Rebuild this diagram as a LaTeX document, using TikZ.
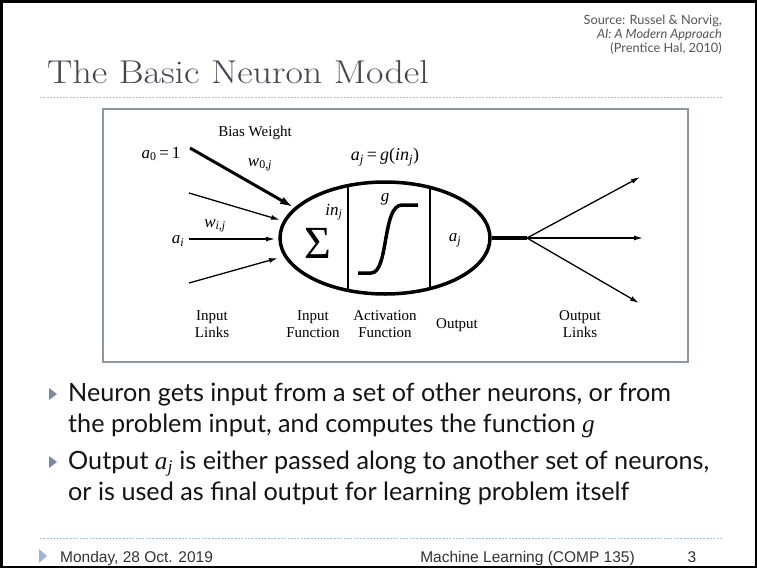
\documentclass[tikz,border=0pt]{standalone}
\usepackage{fontspec}
\usepackage{graphicx}
\newfontfamily\bodyfont{Lato}
\newfontfamily\figfont{Liberation Serif}
\newfontfamily\footfont{Liberation Sans}
\usetikzlibrary{shapes.geometric,arrows.meta}
\definecolor{titlegray}{HTML}{464652}
\definecolor{dotblue}{HTML}{A7C1DD}
\definecolor{boxgray}{HTML}{8E96A6}
\definecolor{bulletgray}{HTML}{7D88A5}
\definecolor{footblue}{HTML}{9DB6D3}
\definecolor{srcgray}{HTML}{555555}
\definecolor{foottext}{HTML}{333333}
\newcommand{\sbs}[1]{\textsubscript{#1}}
\begin{document}
\begin{tikzpicture}[x=1pt,y=-1pt,
  dotline/.style={dotblue,line width=0.9pt,dash pattern=on 2pt off 1.3pt},
  figlabel/.style={font=\figfont\fontsize{15}{16.5}\selectfont,align=center,inner sep=0},
  fmath/.style={font=\figfont\fontsize{17}{17}\selectfont,inner sep=0},
  arr/.style={-{Latex[length=9pt,width=5pt]},line width=1.3pt},
  biasarr/.style={-{Latex[length=13pt,width=8pt]},line width=3pt},
  bodytext/.style={font=\bodyfont\fontsize{25.2}{30}\selectfont,anchor=base west,inner sep=0,text=black!92},
  bullettri/.style={fill=bulletgray},
  foot/.style={font=\footfont\fontsize{15.5}{15.5}\selectfont,text=foottext,inner sep=0}
]
\useasboundingbox (0,0) rectangle (757,568);
\fill[white] (0,0) rectangle (757,568);
\draw[line width=2.5pt] (1.25,1.25) rectangle (755.75,566.75);

% title
\node[anchor=base west,inner sep=0,text=titlegray,font=\fontsize{33}{33}\selectfont] (title) at (47,83)
  {\scalebox{1.15}[1]{The Basic Neuron Model}};
\node[anchor=north east,align=right,inner sep=0,text=srcgray,
      font=\bodyfont\fontsize{12.8}{14}\selectfont] (src) at (722,15)
  {Source: Russel \& Norvig,\\ \textit{AI:\ A Modern Approach}\\ (Prentice Hal, 2010)};
\draw[dotline] (40,97) -- (722,97);

% figure box
\draw[boxgray,line width=1.5pt,fill=white] (103,109) rectangle (688,362);

% neuron
\begin{scope}
  \clip (385,238) ellipse [x radius=105pt, y radius=56pt];
  \draw[line width=1.2pt] (348,150) -- (348,330);
  \draw[line width=1.2pt] (430,150) -- (430,330);
\end{scope}
\node[draw,ellipse,line width=3.5pt,minimum width=210pt,minimum height=112pt,inner sep=0] (neuron) at (385,238) {};
\draw[line width=3.5pt] (358,273) -- (371,273) .. controls (389,273) and (382,205) .. (402,205) -- (418,205);

\node[inner sep=0,font=\figfont\fontsize{46}{46}\selectfont] (sigma) at (318,243) {Σ};
\node[fmath] (inj) at (334,212) {\textit{in}\sbs{\textit{j}}};
\node[fmath] (g) at (385,199) {\textit{g}};
\node[fmath] (aj) at (455,240) {\textit{a}\sbs{\textit{j}}};
\node[fmath,font=\figfont\fontsize{18}{18}\selectfont] (ajeq) at (385,157) {\textit{a}\sbs{\textit{j}}\,=\,\textit{g}(\textit{in}\sbs{\textit{j}})};

% inputs
\node[fmath,anchor=base] (a0) at (161,158) {\textit{a}\sbs{0}\,=\,1};
\node[figlabel] (bias) at (255,133) {Bias Weight};
\node[fmath] (w0j) at (260,165) {\textit{w}\sbs{0,\textit{j}}};
\node[fmath] (wij) at (215,226) {\textit{w}\sbs{\textit{i,j}}};
\node[fmath] (ai) at (178,241) {\textit{a}\sbs{\textit{i}}};

\coordinate (bt) at (190,148); \coordinate (bh) at (293,207);
\coordinate (t1) at (189,193); \coordinate (h1) at (280,220);
\coordinate (t2) at (189,239); \coordinate (h2) at (275,239);
\coordinate (t3) at (189,283); \coordinate (h3) at (278,258);
\draw[biasarr] (bt) -- (bh);
\draw[arr] (t1) -- (h1);
\draw[arr] (t2) -- (h2);
\draw[arr] (t3) -- (h3);

% outputs
\coordinate (hub) at (527,238);
\coordinate (o1) at (640,177);
\coordinate (o2) at (643,238);
\coordinate (o3) at (639,303);
\draw[line width=3.5pt] (neuron.east) -- (hub);
\draw[arr] (hub) -- (o1);
\draw[arr] (hub) -- (o2);
\draw[arr] (hub) -- (o3);

% labels
\node[figlabel] (l1) at (212,324) {Input\\Links};
\node[figlabel] (l2) at (313,324) {Input\\Function};
\node[figlabel] (l3) at (385,324) {Activation\\Function};
\node[figlabel] (l4) at (457,325) {Output};
\node[figlabel] (l5) at (580,324) {Output\\Links};

% bullets
\fill[bullettri] (49,388) -- (57,394) -- (49,400) -- cycle;
\node[bodytext] (b1a) at (68,401) {Neuron gets input from a set of other neurons, or from};
\node[bodytext] (b1b) at (68,432) {the problem input, and computes the function {\figfont\itshape g}};
\fill[bullettri] (49,456) -- (57,462) -- (49,468) -- cycle;
\node[bodytext] (b2a) at (68,469) {Output {\figfont\itshape a\sbs{j}} is either passed along to another set of neurons,};
\node[bodytext] (b2b) at (68,500) {or is used as final output for learning problem itself};

% footer
\draw[dotline] (40,538) -- (722,538);
\fill[footblue] (39,549) -- (47,556) -- (39,563) -- cycle;
\node[foot,anchor=base west] (date) at (60,562) {Monday, 28 Oct. 2019};
\node[foot,anchor=base east] (course) at (635,562) {Machine Learning (COMP 135)};
\node[foot,anchor=base] (page) at (692,562) {3};
\end{tikzpicture}
\end{document}
